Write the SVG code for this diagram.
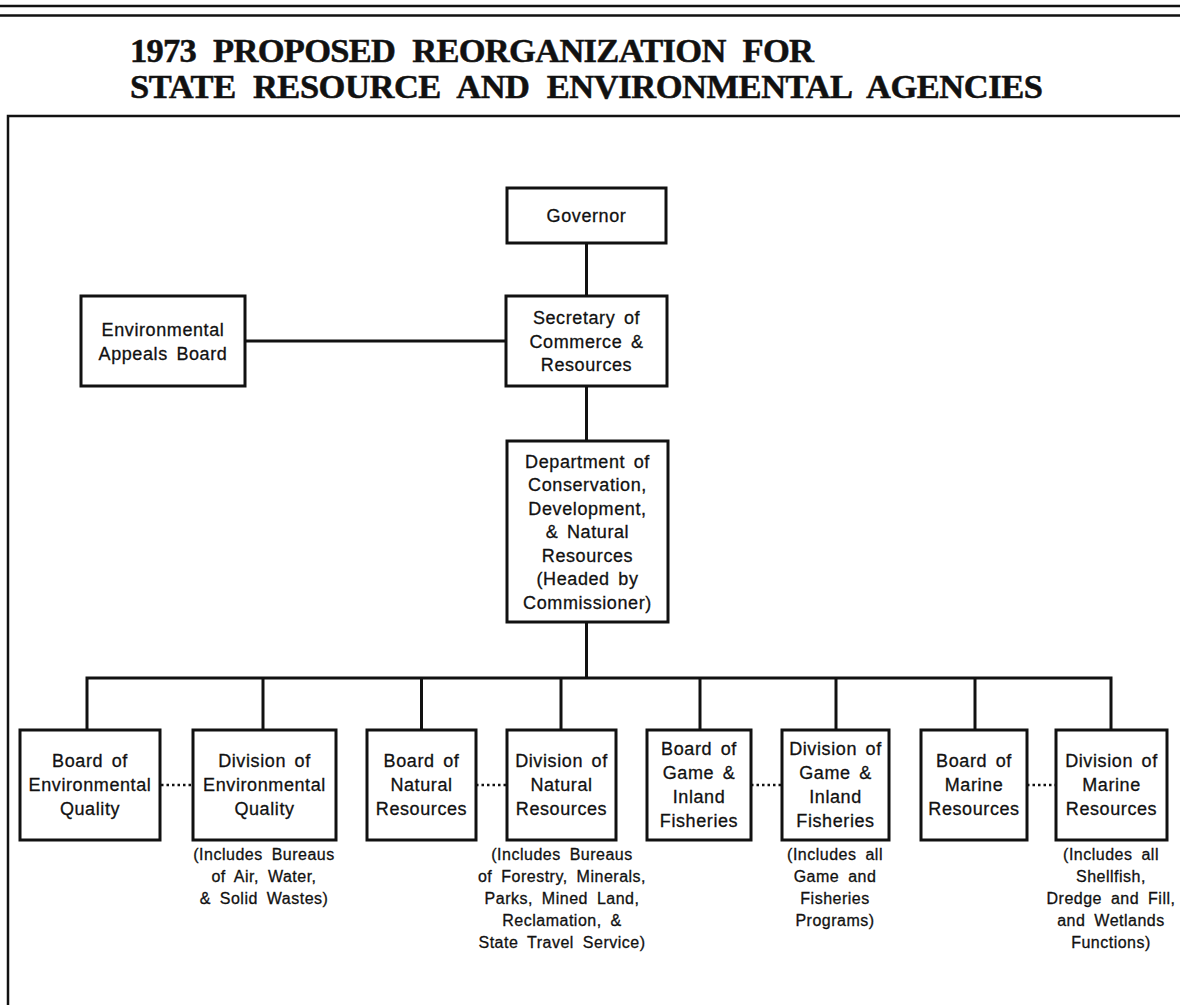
<svg xmlns="http://www.w3.org/2000/svg" width="1180" height="1005" viewBox="0 0 1180 1005">
<style>
.box{fill:#fff;stroke:#111;stroke-width:3}
.t{font-family:"Liberation Sans",Arial,sans-serif;font-size:18px;fill:#111;stroke:#111;stroke-width:0.3;text-anchor:middle;letter-spacing:0.6px;word-spacing:3px}
.n{font-family:"Liberation Sans",Arial,sans-serif;font-size:16px;fill:#111;stroke:#111;stroke-width:0.3;text-anchor:middle;letter-spacing:0.5px;word-spacing:4px}
.title{font-family:"Liberation Serif","Times New Roman",serif;font-size:34.5px;font-weight:bold;fill:#111;stroke:#111;stroke-width:0.5;word-spacing:9px}
.ln{stroke:#111;stroke-width:3;fill:none}
.dot{stroke:#111;stroke-width:2.5;fill:none;stroke-dasharray:2.5 3}
.rule{stroke:#111;stroke-width:2.5;fill:none}
</style>
<rect width="1180" height="1005" fill="#fff"/>
<g id="header">
<line class="rule" x1="0" y1="6" x2="1180" y2="6"/>
<line class="rule" x1="0" y1="15.5" x2="1180" y2="15.5"/>
<text class="title" x="130" y="62" textLength="684" lengthAdjust="spacing">1973 PROPOSED REORGANIZATION FOR</text>
<text class="title" x="130" y="98" textLength="913" lengthAdjust="spacing">STATE RESOURCE AND ENVIRONMENTAL AGENCIES</text>
<path class="rule" d="M8 1005 V116 H1180"/>
</g>
<g id="connectors">
<line class="ln" x1="586.5" y1="243" x2="586.5" y2="296"/>
<line class="ln" x1="245" y1="341" x2="506" y2="341"/>
<line class="ln" x1="586.5" y1="386" x2="586.5" y2="441"/>
<line class="ln" x1="586.5" y1="622" x2="586.5" y2="678"/>
<path class="ln" d="M87 730 V678 H1111 V730"/>
<line class="ln" x1="263" y1="678" x2="263" y2="730"/>
<line class="ln" x1="421.5" y1="678" x2="421.5" y2="730"/>
<line class="ln" x1="561" y1="678" x2="561" y2="730"/>
<line class="ln" x1="700" y1="678" x2="700" y2="730"/>
<line class="ln" x1="836" y1="678" x2="836" y2="730"/>
<line class="ln" x1="975" y1="678" x2="975" y2="730"/>
<line class="dot" x1="161" y1="785" x2="192" y2="785"/>
<line class="dot" x1="476" y1="785" x2="506" y2="785"/>
<line class="dot" x1="751" y1="785" x2="781" y2="785"/>
<line class="dot" x1="1027" y1="785" x2="1055" y2="785"/>
</g>
<g id="governor">
<rect class="box" x="507" y="188" width="159" height="55"/>
<text class="t" x="586.5" y="222">Governor</text>
</g>
<g id="secretary">
<rect class="box" x="506" y="296" width="161" height="90"/>
<text class="t" x="586.5" y="324">Secretary of</text>
<text class="t" x="586.5" y="347.5">Commerce &amp;</text>
<text class="t" x="586.5" y="371">Resources</text>
</g>
<g id="appeals">
<rect class="box" x="81" y="296" width="164" height="90"/>
<text class="t" x="163" y="335.5">Environmental</text>
<text class="t" x="163" y="359.5">Appeals Board</text>
</g>
<g id="department">
<rect class="box" x="507" y="441" width="161" height="181"/>
<text class="t" x="587.5" y="467.5">Department of</text>
<text class="t" x="587.5" y="491">Conservation,</text>
<text class="t" x="587.5" y="514.5">Development,</text>
<text class="t" x="587.5" y="538">&amp; Natural</text>
<text class="t" x="587.5" y="561.5">Resources</text>
<text class="t" x="587.5" y="585">(Headed by</text>
<text class="t" x="587.5" y="608.5">Commissioner)</text>
</g>
<g id="board-env">
<rect class="box" x="20" y="730" width="140" height="110"/>
<text class="t" x="90" y="767">Board of</text>
<text class="t" x="90" y="791">Environmental</text>
<text class="t" x="90" y="815">Quality</text>
</g>
<g id="div-env">
<rect class="box" x="193" y="730" width="143" height="110"/>
<text class="t" x="264.5" y="767">Division of</text>
<text class="t" x="264.5" y="791">Environmental</text>
<text class="t" x="264.5" y="815">Quality</text>
<text class="n" x="264" y="860">(Includes Bureaus</text>
<text class="n" x="264" y="882">of Air, Water,</text>
<text class="n" x="264" y="904">&amp; Solid Wastes)</text>
</g>
<g id="board-nat">
<rect class="box" x="367" y="730" width="109" height="110"/>
<text class="t" x="421.5" y="767">Board of</text>
<text class="t" x="421.5" y="791">Natural</text>
<text class="t" x="421.5" y="815">Resources</text>
</g>
<g id="div-nat">
<rect class="box" x="507" y="730" width="109" height="110"/>
<text class="t" x="561.5" y="767">Division of</text>
<text class="t" x="561.5" y="791">Natural</text>
<text class="t" x="561.5" y="815">Resources</text>
<text class="n" x="562" y="860">(Includes Bureaus</text>
<text class="n" x="562" y="882">of Forestry, Minerals,</text>
<text class="n" x="562" y="904">Parks, Mined Land,</text>
<text class="n" x="562" y="926">Reclamation, &amp;</text>
<text class="n" x="562" y="948">State Travel Service)</text>
</g>
<g id="board-game">
<rect class="box" x="647" y="730" width="104" height="110"/>
<text class="t" x="699" y="755">Board of</text>
<text class="t" x="699" y="779">Game &amp;</text>
<text class="t" x="699" y="803">Inland</text>
<text class="t" x="699" y="827">Fisheries</text>
</g>
<g id="div-game">
<rect class="box" x="782" y="730" width="107" height="110"/>
<text class="t" x="835.5" y="755">Division of</text>
<text class="t" x="835.5" y="779">Game &amp;</text>
<text class="t" x="835.5" y="803">Inland</text>
<text class="t" x="835.5" y="827">Fisheries</text>
<text class="n" x="835" y="860">(Includes all</text>
<text class="n" x="835" y="882">Game and</text>
<text class="n" x="835" y="904">Fisheries</text>
<text class="n" x="835" y="926">Programs)</text>
</g>
<g id="board-marine">
<rect class="box" x="921" y="730" width="106" height="110"/>
<text class="t" x="974" y="767">Board of</text>
<text class="t" x="974" y="791">Marine</text>
<text class="t" x="974" y="815">Resources</text>
</g>
<g id="div-marine">
<rect class="box" x="1056" y="730" width="111" height="110"/>
<text class="t" x="1111.5" y="767">Division of</text>
<text class="t" x="1111.5" y="791">Marine</text>
<text class="t" x="1111.5" y="815">Resources</text>
<text class="n" x="1111" y="860">(Includes all</text>
<text class="n" x="1111" y="882">Shellfish,</text>
<text class="n" x="1111" y="904">Dredge and Fill,</text>
<text class="n" x="1111" y="926">and Wetlands</text>
<text class="n" x="1111" y="948">Functions)</text>
</g>
</svg>
